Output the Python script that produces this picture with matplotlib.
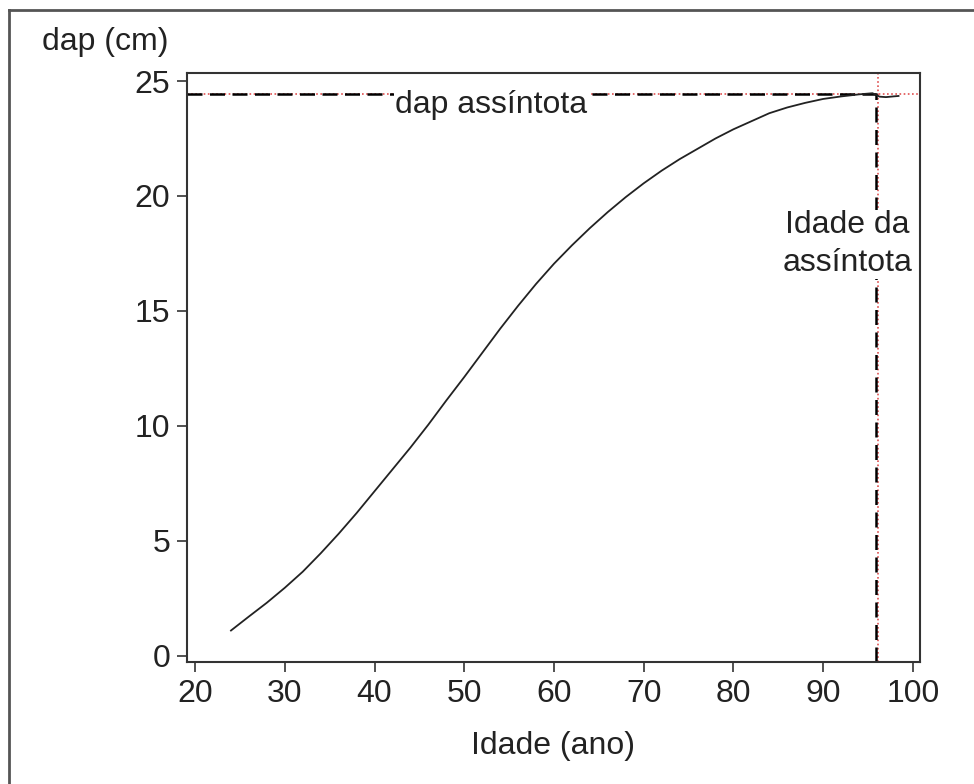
import matplotlib
matplotlib.use("Agg")
import matplotlib.pyplot as plt
from matplotlib.lines import Line2D

# Data
idade = [24, 26, 28, 30, 32, 34, 36, 38, 40, 42, 44, 46, 48, 50, 52, 54, 56, 58,
         60, 62, 64, 66, 68, 70, 72, 74, 76, 78, 80, 82, 84, 86, 88, 90, 92, 94,
         95.5, 96.3, 97, 97.8, 98.4]
dap = [1.09, 1.7, 2.3, 2.95, 3.65, 4.45, 5.3, 6.2, 7.15, 8.1, 9.05, 10.05, 11.1,
       12.12, 13.17, 14.22, 15.22, 16.17, 17.05, 17.85, 18.6, 19.3, 19.95, 20.55,
       21.1, 21.6, 22.05, 22.5, 22.9, 23.25, 23.6, 23.85, 24.05, 24.22, 24.33,
       24.42, 24.47, 24.32, 24.3, 24.33, 24.35]
dap_assintota = 24.45
idade_assintota = 96.0
xticks = [20, 30, 40, 50, 60, 70, 80, 90, 100]
yticks = [0, 5, 10, 15, 20, 25]

plt.rcParams['font.family'] = ['Liberation Sans', 'DejaVu Sans']

fig = plt.figure(figsize=(9.74, 7.84), dpi=100)
ax = fig.add_axes([0.192, 0.1556, 0.7526, 0.7513])

xmin, xmax = 19.1, 100.8
ymin, ymax = -0.28, 25.35
ax.set_xlim(xmin, xmax)
ax.set_ylim(ymin, ymax)

# Curve
ax.plot(idade, dap, color='#222222', lw=1.3, zorder=3)

# Red dotted reference lines (full span)
ax.axhline(dap_assintota, color='#e05050', lw=1.2, ls=(0, (1, 1.5)), zorder=2)
ax.axvline(idade_assintota + 0.12, color='#e05050', lw=1.2, ls=(0, (1, 1.5)), zorder=2)
# Black dashed lines
ax.plot([xmin, idade_assintota], [dap_assintota, dap_assintota],
        color='black', lw=1.8, ls=(0, (6, 3)), zorder=2.5)
ax.plot([idade_assintota - 0.1, idade_assintota - 0.1], [ymin, dap_assintota],
        color='black', lw=1.8, ls=(0, (6, 3)), zorder=2.5)

fs = 23
ax.text(53.0, 23.95, 'dap assíntota', fontsize=fs, ha='center', va='center',
        color='#222222', zorder=4,
        bbox=dict(facecolor='white', edgecolor='none', pad=1.0))
ax.text(92.7, 17.9, 'Idade da\nassíntota', fontsize=fs, ha='center', va='center',
        color='#222222', zorder=4, linespacing=1.35,
        bbox=dict(facecolor='white', edgecolor='none', pad=0.5))

ax.set_xticks(xticks)
ax.set_yticks(yticks)
ax.tick_params(axis='both', direction='out', length=7, width=1.2, color='#333333',
               labelsize=fs, labelcolor='#222222', pad=5)
for s in ax.spines.values():
    s.set_color('#333333')
    s.set_linewidth(1.5)

fig.text(553 / 974, 1 - 746 / 784, 'Idade (ano)', fontsize=fs, ha='center',
         va='center', color='#222222')
fig.text(42 / 974, 1 - 42 / 784, 'dap (cm)', fontsize=fs, ha='left',
         va='center', color='#222222')

# Outer frame (only top and left edges visible in the reference)
fig.add_artist(Line2D([9 / 974, 1.0], [1 - 10 / 784, 1 - 10 / 784],
                      transform=fig.transFigure, color='#555555', lw=2))
fig.add_artist(Line2D([9 / 974, 9 / 974], [0.0, 1 - 10 / 784],
                      transform=fig.transFigure, color='#555555', lw=2))

fig.savefig('out.png', dpi=100)
